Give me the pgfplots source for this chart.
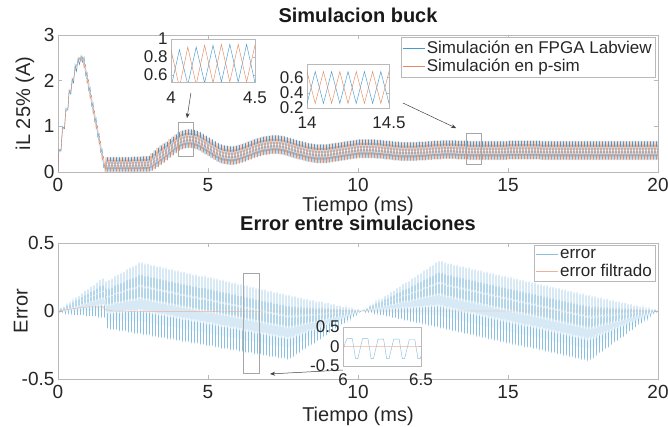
\documentclass[border=0pt]{standalone}
\usepackage{fontspec}
\setmainfont{Liberation Sans}
\usepackage{pgfplots}
\usepackage{pgfplotstable}
\pgfplotsset{compat=1.18}
\usetikzlibrary{arrows.meta}
\definecolor{mblue}{RGB}{0,114,189}
\definecolor{morange}{RGB}{217,83,25}

\pgfplotstableread{
t b o
0.00 0.00 0.00
0.03 0.50 0.45
0.10 0.45 0.50
0.15 1.00 0.92
0.22 0.95 1.00
0.26 1.40 1.32
0.33 1.35 1.40
0.37 1.80 1.72
0.43 1.70 1.80
0.47 2.05 1.95
0.52 1.95 2.05
0.57 2.35 2.22
0.62 2.20 2.35
0.67 2.50 2.38
0.72 2.35 2.50
0.77 2.55 2.42
0.82 2.40 2.52
0.87 2.52 2.28
0.92 2.11 2.35
0.97 2.18 1.94
1.02 1.78 2.02
1.07 1.85 1.61
1.12 1.44 1.68
1.17 1.51 1.27
1.22 1.10 1.34
1.27 1.18 0.94
1.32 0.77 1.01
1.37 0.84 0.60
1.42 0.43 0.67
1.47 0.50 0.26
1.52 0.10 0.34
1.57 0.17 0.00
1.60 0.00 0.33
1.65 0.33 0.00
1.70 0.00 0.33
1.75 0.33 0.00
1.80 0.00 0.33
1.85 0.33 0.00
1.90 0.00 0.33
1.95 0.33 0.00
2.00 0.00 0.33
2.05 0.33 0.00
2.10 0.00 0.33
2.15 0.33 0.00
2.20 0.00 0.33
2.25 0.33 0.00
2.30 0.00 0.33
2.35 0.33 0.00
2.40 0.00 0.33
2.45 0.33 0.00
2.50 0.00 0.34
2.55 0.34 0.00
2.60 0.00 0.34
2.65 0.34 0.00
2.70 0.00 0.34
2.75 0.34 0.00
2.80 0.00 0.35
2.85 0.35 0.00
2.90 0.00 0.35
2.95 0.35 0.00
3.00 0.00 0.36
3.05 0.36 0.00
3.10 0.02 0.42
3.15 0.42 0.02
3.20 0.06 0.48
3.25 0.48 0.06
3.30 0.10 0.54
3.35 0.54 0.10
3.40 0.15 0.59
3.45 0.59 0.15
3.50 0.20 0.63
3.55 0.63 0.20
3.60 0.25 0.67
3.65 0.67 0.25
3.70 0.31 0.73
3.75 0.73 0.31
3.80 0.36 0.78
3.85 0.78 0.36
3.90 0.41 0.83
3.95 0.83 0.41
4.00 0.46 0.88
4.05 0.88 0.46
4.10 0.49 0.91
4.15 0.91 0.49
4.20 0.51 0.93
4.25 0.93 0.51
4.30 0.52 0.94
4.35 0.94 0.52
4.40 0.52 0.94
4.45 0.94 0.52
4.50 0.51 0.93
4.55 0.93 0.51
4.60 0.49 0.91
4.65 0.91 0.49
4.70 0.46 0.88
4.75 0.88 0.46
4.80 0.42 0.84
4.85 0.84 0.42
4.90 0.38 0.80
4.95 0.80 0.38
5.00 0.34 0.76
5.05 0.76 0.34
5.10 0.30 0.72
5.15 0.72 0.30
5.20 0.26 0.68
5.25 0.68 0.26
5.30 0.22 0.64
5.35 0.64 0.22
5.40 0.19 0.61
5.45 0.61 0.19
5.50 0.17 0.59
5.55 0.59 0.17
5.60 0.16 0.58
5.65 0.58 0.16
5.70 0.15 0.57
5.75 0.57 0.15
5.80 0.15 0.57
5.85 0.57 0.15
5.90 0.16 0.58
5.95 0.58 0.16
6.00 0.18 0.60
6.05 0.60 0.18
6.10 0.20 0.62
6.15 0.62 0.20
6.20 0.22 0.64
6.25 0.64 0.22
6.30 0.25 0.67
6.35 0.67 0.25
6.40 0.27 0.69
6.45 0.69 0.27
6.50 0.30 0.72
6.55 0.72 0.30
6.60 0.32 0.74
6.65 0.74 0.32
6.70 0.34 0.76
6.75 0.76 0.34
6.80 0.36 0.78
6.85 0.78 0.36
6.90 0.37 0.79
6.95 0.79 0.37
7.00 0.38 0.80
7.05 0.80 0.38
7.10 0.39 0.81
7.15 0.81 0.39
7.20 0.39 0.81
7.25 0.81 0.39
7.30 0.39 0.81
7.35 0.81 0.39
7.40 0.38 0.80
7.45 0.80 0.38
7.50 0.37 0.79
7.55 0.79 0.37
7.60 0.35 0.77
7.65 0.77 0.35
7.70 0.33 0.75
7.75 0.75 0.33
7.80 0.31 0.73
7.85 0.73 0.31
7.90 0.29 0.71
7.95 0.71 0.29
8.00 0.27 0.69
8.05 0.69 0.27
8.10 0.26 0.68
8.15 0.68 0.26
8.20 0.24 0.66
8.25 0.66 0.24
8.30 0.22 0.64
8.35 0.64 0.22
8.40 0.21 0.63
8.45 0.63 0.21
8.50 0.20 0.62
8.55 0.62 0.20
8.60 0.19 0.61
8.65 0.61 0.19
8.70 0.19 0.61
8.75 0.61 0.19
8.80 0.19 0.61
8.85 0.61 0.19
8.90 0.19 0.61
8.95 0.61 0.19
9.00 0.20 0.62
9.05 0.62 0.20
9.10 0.21 0.63
9.15 0.63 0.21
9.20 0.22 0.64
9.25 0.64 0.22
9.30 0.23 0.65
9.35 0.65 0.23
9.40 0.24 0.66
9.45 0.66 0.24
9.50 0.25 0.67
9.55 0.67 0.25
9.60 0.26 0.68
9.65 0.68 0.26
9.70 0.27 0.69
9.75 0.69 0.27
9.80 0.28 0.70
9.85 0.70 0.28
9.90 0.29 0.71
9.95 0.71 0.29
10.00 0.30 0.72
10.05 0.72 0.30
10.10 0.30 0.72
10.15 0.72 0.30
10.20 0.30 0.72
10.25 0.72 0.30
10.30 0.30 0.72
10.35 0.72 0.30
10.40 0.30 0.72
10.45 0.72 0.30
10.50 0.30 0.72
10.55 0.72 0.30
10.60 0.29 0.71
10.65 0.71 0.29
10.70 0.29 0.71
10.75 0.71 0.29
10.80 0.28 0.70
10.85 0.70 0.28
10.90 0.27 0.69
10.95 0.69 0.27
11.00 0.27 0.69
11.05 0.69 0.27
11.10 0.26 0.68
11.15 0.68 0.26
11.20 0.25 0.67
11.25 0.67 0.25
11.30 0.25 0.67
11.35 0.67 0.25
11.40 0.24 0.66
11.45 0.66 0.24
11.50 0.24 0.66
11.55 0.66 0.24
11.60 0.24 0.66
11.65 0.66 0.24
11.70 0.24 0.66
11.75 0.66 0.24
11.80 0.24 0.66
11.85 0.66 0.24
11.90 0.24 0.66
11.95 0.66 0.24
12.00 0.25 0.67
12.05 0.67 0.25
12.10 0.25 0.67
12.15 0.67 0.25
12.20 0.25 0.67
12.25 0.67 0.25
12.30 0.26 0.68
12.35 0.68 0.26
12.40 0.26 0.68
12.45 0.68 0.26
12.50 0.27 0.69
12.55 0.69 0.27
12.60 0.27 0.69
12.65 0.69 0.27
12.70 0.27 0.69
12.75 0.69 0.27
12.80 0.28 0.70
12.85 0.70 0.28
12.90 0.28 0.70
12.95 0.70 0.28
13.00 0.28 0.70
13.05 0.70 0.28
13.10 0.28 0.70
13.15 0.70 0.28
13.20 0.28 0.70
13.25 0.70 0.28
13.30 0.27 0.69
13.35 0.69 0.27
13.40 0.27 0.69
13.45 0.69 0.27
13.50 0.27 0.69
13.55 0.69 0.27
13.60 0.27 0.69
13.65 0.69 0.27
13.70 0.26 0.68
13.75 0.68 0.26
13.80 0.26 0.68
13.85 0.68 0.26
13.90 0.26 0.68
13.95 0.68 0.26
14.00 0.26 0.68
14.05 0.68 0.26
14.10 0.26 0.68
14.15 0.68 0.26
14.20 0.26 0.68
14.25 0.68 0.26
14.30 0.26 0.68
14.35 0.68 0.26
14.40 0.26 0.68
14.45 0.68 0.26
14.50 0.26 0.68
14.55 0.68 0.26
14.60 0.26 0.68
14.65 0.68 0.26
14.70 0.26 0.68
14.75 0.68 0.26
14.80 0.26 0.68
14.85 0.68 0.26
14.90 0.26 0.68
14.95 0.68 0.26
15.00 0.27 0.69
15.05 0.69 0.27
15.10 0.27 0.69
15.15 0.69 0.27
15.20 0.27 0.69
15.25 0.69 0.27
15.30 0.27 0.69
15.35 0.69 0.27
15.40 0.27 0.69
15.45 0.69 0.27
15.50 0.27 0.69
15.55 0.69 0.27
15.60 0.27 0.69
15.65 0.69 0.27
15.70 0.27 0.69
15.75 0.69 0.27
15.80 0.27 0.69
15.85 0.69 0.27
15.90 0.27 0.69
15.95 0.69 0.27
16.00 0.27 0.69
16.05 0.69 0.27
16.10 0.26 0.68
16.15 0.68 0.26
16.20 0.26 0.68
16.25 0.68 0.26
16.30 0.26 0.68
16.35 0.68 0.26
16.40 0.26 0.68
16.45 0.68 0.26
16.50 0.26 0.68
16.55 0.68 0.26
16.60 0.26 0.68
16.65 0.68 0.26
16.70 0.26 0.68
16.75 0.68 0.26
16.80 0.26 0.68
16.85 0.68 0.26
16.90 0.26 0.68
16.95 0.68 0.26
17.00 0.26 0.68
17.05 0.68 0.26
17.10 0.26 0.68
17.15 0.68 0.26
17.20 0.26 0.68
17.25 0.68 0.26
17.30 0.26 0.68
17.35 0.68 0.26
17.40 0.26 0.68
17.45 0.68 0.26
17.50 0.26 0.68
17.55 0.68 0.26
17.60 0.26 0.68
17.65 0.68 0.26
17.70 0.26 0.68
17.75 0.68 0.26
17.80 0.26 0.68
17.85 0.68 0.26
17.90 0.26 0.68
17.95 0.68 0.26
18.00 0.26 0.68
18.05 0.68 0.26
18.10 0.26 0.68
18.15 0.68 0.26
18.20 0.26 0.68
18.25 0.68 0.26
18.30 0.26 0.68
18.35 0.68 0.26
18.40 0.26 0.68
18.45 0.68 0.26
18.50 0.26 0.68
18.55 0.68 0.26
18.60 0.26 0.68
18.65 0.68 0.26
18.70 0.26 0.68
18.75 0.68 0.26
18.80 0.26 0.68
18.85 0.68 0.26
18.90 0.26 0.68
18.95 0.68 0.26
19.00 0.26 0.68
19.05 0.68 0.26
19.10 0.26 0.68
19.15 0.68 0.26
19.20 0.26 0.68
19.25 0.68 0.26
19.30 0.26 0.68
19.35 0.68 0.26
19.40 0.26 0.68
19.45 0.68 0.26
19.50 0.26 0.68
19.55 0.68 0.26
19.60 0.26 0.68
19.65 0.68 0.26
19.70 0.26 0.68
19.75 0.68 0.26
19.80 0.26 0.68
19.85 0.68 0.26
19.90 0.26 0.68
19.95 0.68 0.26
20.00 0.26 0.68
}\iltable

\pgfplotstableread{
t e
0.00 0.00
0.05 -0.01
0.10 0.02
0.15 -0.01
0.20 0.03
0.25 -0.02
0.30 0.05
0.35 -0.02
0.40 0.06
0.45 -0.02
0.50 0.08
0.55 -0.03
0.60 0.10
0.65 -0.03
0.70 0.11
0.75 -0.03
0.80 0.13
0.85 -0.03
0.90 0.15
0.95 -0.04
1.00 0.16
1.05 -0.04
1.10 0.18
1.15 -0.04
1.20 0.19
1.25 -0.04
1.30 0.21
1.35 -0.05
1.40 0.23
1.45 -0.05
1.50 0.24
1.55 -0.05
1.60 0.22
1.65 -0.13
1.70 0.23
1.75 -0.14
1.80 0.24
1.85 -0.14
1.90 0.26
1.95 -0.14
2.00 0.27
2.05 -0.15
2.10 0.28
2.15 -0.15
2.20 0.29
2.25 -0.15
2.30 0.31
2.35 -0.16
2.40 0.32
2.45 -0.16
2.50 0.33
2.55 -0.17
2.60 0.34
2.65 -0.17
2.70 0.36
2.75 -0.17
2.80 0.36
2.85 -0.18
2.90 0.35
2.95 -0.18
3.00 0.35
3.05 -0.18
3.10 0.34
3.15 -0.19
3.20 0.34
3.25 -0.19
3.30 0.33
3.35 -0.20
3.40 0.33
3.45 -0.20
3.50 0.32
3.55 -0.20
3.60 0.32
3.65 -0.21
3.70 0.31
3.75 -0.21
3.80 0.31
3.85 -0.21
3.90 0.30
3.95 -0.22
4.00 0.30
4.05 -0.22
4.10 0.29
4.15 -0.23
4.20 0.29
4.25 -0.23
4.30 0.28
4.35 -0.23
4.40 0.28
4.45 -0.24
4.50 0.27
4.55 -0.24
4.60 0.27
4.65 -0.24
4.70 0.26
4.75 -0.25
4.80 0.26
4.85 -0.25
4.90 0.26
4.95 -0.26
5.00 0.25
5.05 -0.26
5.10 0.25
5.15 -0.26
5.20 0.24
5.25 -0.27
5.30 0.24
5.35 -0.27
5.40 0.23
5.45 -0.28
5.50 0.23
5.55 -0.28
5.60 0.22
5.65 -0.28
5.70 0.22
5.75 -0.29
5.80 0.21
5.85 -0.29
5.90 0.21
5.95 -0.29
6.00 0.20
6.05 -0.30
6.10 0.20
6.15 -0.30
6.20 0.19
6.25 -0.31
6.30 0.19
6.35 -0.31
6.40 0.18
6.45 -0.31
6.50 0.18
6.55 -0.32
6.60 0.17
6.65 -0.32
6.70 0.17
6.75 -0.32
6.80 0.16
6.85 -0.33
6.90 0.16
6.95 -0.33
7.00 0.15
7.05 -0.34
7.10 0.15
7.15 -0.34
7.20 0.14
7.25 -0.34
7.30 0.14
7.35 -0.35
7.40 0.13
7.45 -0.35
7.50 0.13
7.55 -0.35
7.60 0.12
7.65 -0.36
7.70 0.12
7.75 -0.35
7.80 0.11
7.85 -0.34
7.90 0.11
7.95 -0.32
8.00 0.10
8.05 -0.31
8.10 0.10
8.15 -0.29
8.20 0.09
8.25 -0.28
8.30 0.09
8.35 -0.26
8.40 0.08
8.45 -0.25
8.50 0.08
8.55 -0.24
8.60 0.07
8.65 -0.22
8.70 0.07
8.75 -0.21
8.80 0.07
8.85 -0.19
8.90 0.06
8.95 -0.18
9.00 0.06
9.05 -0.16
9.10 0.05
9.15 -0.15
9.20 0.05
9.25 -0.13
9.30 0.04
9.35 -0.12
9.40 0.04
9.45 -0.10
9.50 0.03
9.55 -0.09
9.60 0.03
9.65 -0.07
9.70 0.02
9.75 -0.06
9.80 0.02
9.85 -0.04
9.90 0.01
9.95 -0.03
10.00 0.01
10.05 -0.01
10.10 0.00
10.15 0.00
10.20 0.01
10.25 -0.01
10.30 0.02
10.35 -0.01
10.40 0.04
10.45 -0.01
10.50 0.05
10.55 -0.02
10.60 0.07
10.65 -0.02
10.70 0.08
10.75 -0.03
10.80 0.09
10.85 -0.03
10.90 0.11
10.95 -0.04
11.00 0.12
11.05 -0.04
11.10 0.14
11.15 -0.05
11.20 0.15
11.25 -0.05
11.30 0.17
11.35 -0.06
11.40 0.18
11.45 -0.06
11.50 0.20
11.55 -0.07
11.60 0.21
11.65 -0.07
11.70 0.22
11.75 -0.08
11.80 0.24
11.85 -0.08
11.90 0.25
11.95 -0.09
12.00 0.27
12.05 -0.09
12.10 0.28
12.15 -0.10
12.20 0.30
12.25 -0.10
12.30 0.31
12.35 -0.11
12.40 0.33
12.45 -0.11
12.50 0.34
12.55 -0.12
12.60 0.36
12.65 -0.12
12.70 0.37
12.75 -0.13
12.80 0.37
12.85 -0.13
12.90 0.36
12.95 -0.14
13.00 0.35
13.05 -0.14
13.10 0.35
13.15 -0.15
13.20 0.34
13.25 -0.15
13.30 0.34
13.35 -0.16
13.40 0.33
13.45 -0.16
13.50 0.33
13.55 -0.17
13.60 0.32
13.65 -0.17
13.70 0.32
13.75 -0.18
13.80 0.31
13.85 -0.18
13.90 0.31
13.95 -0.19
14.00 0.30
14.05 -0.19
14.10 0.30
14.15 -0.20
14.20 0.29
14.25 -0.20
14.30 0.29
14.35 -0.21
14.40 0.28
14.45 -0.21
14.50 0.28
14.55 -0.22
14.60 0.27
14.65 -0.22
14.70 0.27
14.75 -0.23
14.80 0.26
14.85 -0.23
14.90 0.26
14.95 -0.24
15.00 0.25
15.05 -0.24
15.10 0.25
15.15 -0.25
15.20 0.24
15.25 -0.25
15.30 0.24
15.35 -0.26
15.40 0.23
15.45 -0.26
15.50 0.23
15.55 -0.27
15.60 0.22
15.65 -0.27
15.70 0.22
15.75 -0.27
15.80 0.21
15.85 -0.28
15.90 0.21
15.95 -0.28
16.00 0.20
16.05 -0.29
16.10 0.20
16.15 -0.29
16.20 0.19
16.25 -0.30
16.30 0.19
16.35 -0.30
16.40 0.18
16.45 -0.31
16.50 0.18
16.55 -0.31
16.60 0.17
16.65 -0.32
16.70 0.17
16.75 -0.32
16.80 0.16
16.85 -0.33
16.90 0.16
16.95 -0.33
17.00 0.15
17.05 -0.34
17.10 0.15
17.15 -0.34
17.20 0.14
17.25 -0.35
17.30 0.14
17.35 -0.35
17.40 0.13
17.45 -0.36
17.50 0.13
17.55 -0.36
17.60 0.12
17.65 -0.37
17.70 0.12
17.75 -0.36
17.80 0.11
17.85 -0.35
17.90 0.11
17.95 -0.33
18.00 0.10
18.05 -0.31
18.10 0.10
18.15 -0.30
18.20 0.09
18.25 -0.28
18.30 0.09
18.35 -0.27
18.40 0.08
18.45 -0.25
18.50 0.08
18.55 -0.23
18.60 0.07
18.65 -0.22
18.70 0.07
18.75 -0.20
18.80 0.06
18.85 -0.19
18.90 0.06
18.95 -0.17
19.00 0.05
19.05 -0.15
19.10 0.05
19.15 -0.14
19.20 0.04
19.25 -0.12
19.30 0.04
19.35 -0.10
19.40 0.03
19.45 -0.09
19.50 0.03
19.55 -0.07
19.60 0.02
19.65 -0.06
19.70 0.02
19.75 -0.04
19.80 0.01
19.85 -0.02
19.90 0.01
19.95 -0.01
20.00 0.00
}\errtable

\pgfplotstableread{
t e
6.000 -0.05
6.025 0.20
6.060 0.20
6.080 -0.31
6.095 -0.31
6.125 0.20
6.160 0.20
6.180 -0.31
6.195 -0.31
6.225 0.19
6.260 0.19
6.280 -0.31
6.295 -0.31
6.325 0.19
6.360 0.19
6.380 -0.31
6.395 -0.31
6.425 0.18
6.460 0.18
6.480 -0.31
6.495 -0.31
6.500 -0.25
}\errzoom

\pgfplotstableread{
t f
0.0 0.000
0.3 0.010
0.6 0.020
1.0 0.030
1.5 0.030
1.6 0.010
1.8 0.000
3.0 -0.005
5.0 -0.005
7.0 0.000
10.0 0.000
13.0 0.000
16.0 0.000
20.0 0.000
}\filttable

\colorlet{cblue}{mblue!72}
\colorlet{corange}{morange!68}
\colorlet{eblue}{mblue!45}
\colorlet{eorange}{morange!45}

\pgfplotsset{
  mstyle/.style={
    scale only axis,
    axis line style={gray!55, line width=0.5pt},
    tick style={gray!55, line width=0.5pt},
    major tick length=4pt,
    tick align=inside,
    ticklabel style={font=\fontsize{19}{21}\selectfont, text=black!85},
    xticklabel style={yshift=-3pt},
    /pgf/number format/assume math mode=true,
    label style={font=\fontsize{20}{22}\selectfont, text=black!85, inner sep=0pt},
    title style={font=\fontsize{20}{22}\selectfont\bfseries, text=black!90, inner sep=0pt},
    legend style={font=\fontsize{17}{19}\selectfont, draw=gray!55, line width=0.5pt,
      at={(0.995,0.985)}, anchor=north east, inner xsep=1pt, inner ysep=2pt,
      row sep=0pt, cells={anchor=west}, text=black!85},
    legend image code/.code={\draw[#1] (-2pt,0pt) -- (20pt,0pt);},
    every axis plot/.append style={line width=0.4pt},
  },
  instyle/.style={
    scale only axis,
    axis background/.style={fill=white},
    axis line style={gray!55, line width=0.5pt},
    tick style={gray!55, line width=0.4pt},
    major tick length=2pt,
    tick align=inside,
    ticklabel style={font=\fontsize{17}{19}\selectfont, text=black!85},
    yticklabel style={inner ysep=0pt},
    /pgf/number format/assume math mode=true,
    every axis plot/.append style={line width=0.45pt},
  },
}

\begin{document}
\begin{tikzpicture}
\useasboundingbox (0,0) rectangle (668pt,427pt);

% ---------------- top axis ----------------
\begin{axis}[mstyle,
  at={(58pt,255pt)}, anchor=south west, width=600pt, height=137pt,
  xmin=0, xmax=20, ymin=0, ymax=3,
  xtick={0,5,10,15,20}, ytick={0,1,2,3},
  title={Simulacion buck},
  title style={at={(axis description cs:0.5,1.051)}, anchor=base},
  xlabel={Tiempo (ms)},
  xlabel style={at={(axis description cs:0.5,-0.292)}, anchor=base},
  ylabel={iL 25\% (A)},
  ylabel style={at={(axis description cs:-0.055,0.5)}, anchor=center},
]
\addplot[cblue] table[x=t,y=b]{\iltable};
\addlegendentry{Simulación en FPGA Labview}
\addplot[corange] table[x=t,y=o]{\iltable};
\addlegendentry{Simulación en p-sim}
\draw[gray!70, line width=0.5pt] (axis cs:4,0.35) rectangle (axis cs:4.5,1.09);
\draw[gray!70, line width=0.5pt] (axis cs:13.6,0.175) rectangle (axis cs:14.1,0.85);
\draw[black!75, line width=0.5pt, -{Stealth[length=5pt,width=4pt]}] (axis cs:4.43,1.73) -- (axis cs:4.3,1.18);
\draw[black!75, line width=0.5pt, -{Stealth[length=5pt,width=4pt]}] (axis cs:11.5,1.51) -- (axis cs:13.27,0.96);
\end{axis}

% inset 4 - 4.5
\begin{axis}[instyle,
  at={(171pt,345pt)}, anchor=south west, width=84pt, height=43pt,
  xmin=4, xmax=4.5, ymin=0.52, ymax=1,
  xtick={4,4.5}, ytick={0.6,0.8,1},
  xticklabel style={yshift=-6pt},
]
\addplot[cblue] table[x=t,y=b]{\iltable};
\addplot[corange] table[x=t,y=o]{\iltable};
\end{axis}

% inset 14 - 14.5
\begin{axis}[instyle,
  at={(307pt,319pt)}, anchor=south west, width=82pt, height=44pt,
  xmin=14, xmax=14.5, ymin=0.2, ymax=0.78,
  xtick={14,14.5}, ytick={0.2,0.4,0.6},
  xticklabel style={yshift=-5pt},
]
\addplot[cblue] table[x=t,y=b]{\iltable};
\addplot[corange] table[x=t,y=o]{\iltable};
\end{axis}

% ---------------- bottom axis ----------------
\begin{axis}[mstyle,
  at={(58pt,48pt)}, anchor=south west, width=600pt, height=136pt,
  xmin=0, xmax=20, ymin=-0.5, ymax=0.5,
  xtick={0,5,10,15,20}, ytick={-0.5,0,0.5},
  title={Error entre simulaciones},
  title style={at={(axis description cs:0.5,1.048)}, anchor=base},
  xlabel={Tiempo (ms)},
  xlabel style={at={(axis description cs:0.5,-0.31)}, anchor=base},
  ylabel={Error},
  ylabel style={at={(axis description cs:-0.062,0.5)}, anchor=center},
]
\addplot[eblue, line width=0.45pt] table[x=t,y=e]{\errtable};
\addlegendentry{error}
\addplot[eorange] table[x=t,y=f]{\filttable};
\addlegendentry{error filtrado}
\draw[gray!70, line width=0.5pt] (axis cs:6.17,0.28) rectangle (axis cs:6.7,-0.456);
\draw[black!75, line width=0.5pt, -{Stealth[length=5pt,width=4pt]}] (axis cs:9.5,-0.434) -- (axis cs:7.07,-0.463);
\end{axis}

% inset 6 - 6.5
\begin{axis}[instyle,
  at={(343pt,61pt)}, anchor=south west, width=78pt, height=39pt,
  xmin=6, xmax=6.5, ymin=-0.5, ymax=0.5,
  xtick={6,6.5}, ytick={-0.5,0,0.5},
  xticklabel style={yshift=-4pt},
]
\addplot[eblue] table[x=t,y=e]{\errzoom};
\addplot[eorange] table[x=t,y=f]{\filttable};
\end{axis}
\end{tikzpicture}
\end{document}
